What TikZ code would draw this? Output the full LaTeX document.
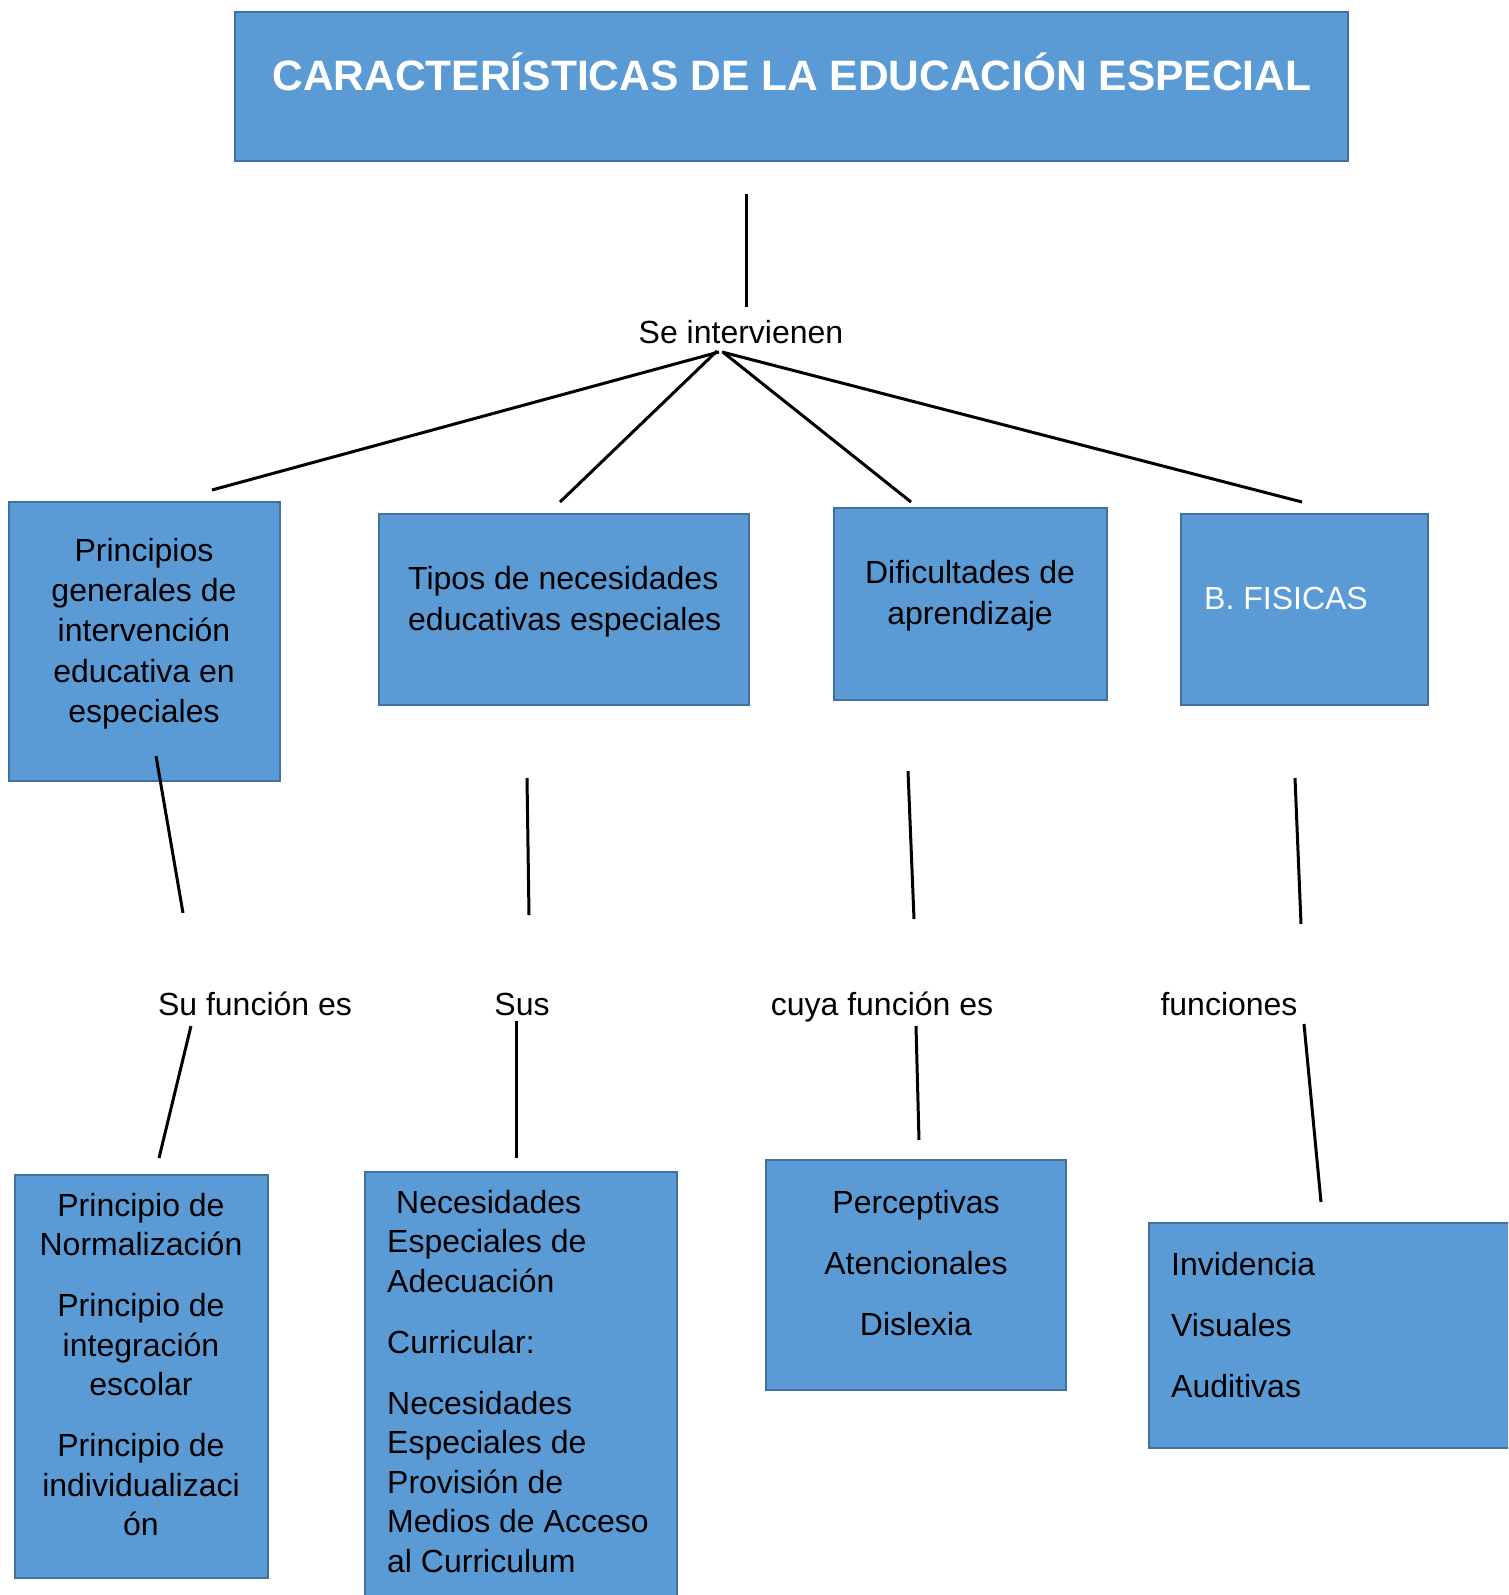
\documentclass[tikz,border=0pt]{standalone}
\usepackage{fontspec}
\setmainfont{Liberation Sans}
\usepackage{tikz}
\definecolor{cellblue}{HTML}{5B9BD5}
\definecolor{cellrim}{HTML}{41719C}
\tikzstyle{bcell} = [rectangle, draw=cellrim, fill=cellblue, line width=2pt, inner sep=0pt]
\tikzstyle{title} = [inner sep=0pt, text=white, font=\fontsize{42.5}{50}\selectfont\bfseries]
\tikzstyle{word} = [inner sep=0pt, font=\fontsize{32}{39.5}\selectfont]
\tikzstyle{wide} = [inner sep=0pt, font=\fontsize{32}{41.5}\selectfont]
\tikzstyle{line} = [draw, line width=3pt]

\begin{document}
\begin{tikzpicture}[x=1pt, y=-1pt]
    \clip (0,0) rectangle (1508,1595);

    % cajas
    \node[bcell, minimum width=1113, minimum height=149] (main) at (791.5,86.5) {};
    \node[bcell, minimum width=271, minimum height=279] (princ) at (144.5,641.5) {};
    \node[bcell, minimum width=370, minimum height=191] (tipos) at (564,609.5) {};
    \node[bcell, minimum width=273, minimum height=192] (dific) at (970.5,604) {};
    \node[bcell, minimum width=247, minimum height=191] (fisic) at (1304.5,609.5) {};
    \node[bcell, minimum width=253, minimum height=403] (normas) at (141.5,1376.5) {};
    \node[bcell, minimum width=312, minimum height=448] (neces) at (521,1396) {};
    \node[bcell, minimum width=300, minimum height=230] (percep) at (916,1275) {};
    \node[bcell, minimum width=381, minimum height=225] (sentid) at (1339.5,1335.5) {};

    % textos
    \node[title, anchor=base] (maintxt) at (792,90) {CARACTERÍSTICAS DE LA EDUCACIÓN ESPECIAL};
    \node[word, anchor=base] (inter) at (741,343) {Se intervienen};
    \node[word, anchor=north, align=center, font=\fontsize{32}{40.3}\selectfont] (princtxt) at (144,538)
        {Principios\\generales de\\intervención\\educativa en\\especiales};
    \node[wide, anchor=north west, align=left] (tipostxt) at (408,566)
        {Tipos de necesidades\\educativas especiales};
    \node[wide, anchor=north, align=center] (difictxt) at (970,560)
        {Dificultades de\\aprendizaje};
    \node[word, anchor=base west, text=white] (fisictxt) at (1204,609) {B. FISICAS};

    \node[word, anchor=base] (funcion) at (255,1015) {Su función es};
    \node[word, anchor=base] (sus) at (522,1015) {Sus};
    \node[word, anchor=base] (cuya) at (882,1015) {cuya función es};
    \node[word, anchor=base] (funciones) at (1229,1015) {funciones};

    \node[word, anchor=north, align=center] (normastxt) at (141,1193)
        {Principio de\\Normalización\\[21.5pt]Principio de\\integración\\escolar\\[21.5pt]Principio de\\individualizaci\\ón};
    \node[word, anchor=north west, align=left] (necestxt) at (387,1190)
        {\hspace*{9pt}Necesidades\\Especiales de\\Adecuación\\[21.5pt]Curricular:\\[21.5pt]Necesidades\\Especiales de\\Provisión de\\Medios de Acceso\\al Curriculum};
    \node[word, anchor=north, align=center] (perceptxt) at (916,1190)
        {Perceptivas\\[21.5pt]Atencionales\\[22pt]Dislexia};
    \node[word, anchor=north west, align=left] (sentidtxt) at (1171,1252)
        {Invidencia\\[21.5pt]Visuales\\[21.5pt]Auditivas};

    % extremos de las lineas
    \coordinate (main-s) at (746,194);
    \coordinate (inter-n) at (746,307);
    \coordinate (hub-a) at (719,352);
    \coordinate (hub-b) at (717,351);
    \coordinate (hub-c) at (724,353);
    \coordinate (hub-d) at (722,352);
    \coordinate (princ-n) at (212,490);
    \coordinate (tipos-n) at (560,502);
    \coordinate (dific-n) at (911,502);
    \coordinate (fisic-n) at (1302,502);
    \coordinate (princ-s) at (156,756);
    \coordinate (tipos-s) at (527,778);
    \coordinate (dific-s) at (908,771);
    \coordinate (fisic-s) at (1295,778);
    \coordinate (funcion-n) at (183,913);
    \coordinate (sus-n) at (529,915);
    \coordinate (cuya-n) at (914,919);
    \coordinate (funciones-n) at (1301,924);
    \coordinate (funcion-s) at (191,1026);
    \coordinate (sus-s) at (516,1021);
    \coordinate (cuya-s) at (916,1026);
    \coordinate (funciones-s) at (1304,1024);
    \coordinate (normas-n) at (159,1158);
    \coordinate (neces-n) at (516,1158);
    \coordinate (percep-n) at (919,1140);
    \coordinate (sentid-n) at (1321,1202);

    \path[line] (main-s) -- (inter-n);
    \path[line] (hub-a) -- (princ-n);
    \path[line] (hub-b) -- (tipos-n);
    \path[line] (hub-c) -- (dific-n);
    \path[line] (hub-d) -- (fisic-n);
    \path[line] (princ-s) -- (funcion-n);
    \path[line] (tipos-s) -- (sus-n);
    \path[line] (dific-s) -- (cuya-n);
    \path[line] (fisic-s) -- (funciones-n);
    \path[line] (funcion-s) -- (normas-n);
    \path[line] (sus-s) -- (neces-n);
    \path[line] (cuya-s) -- (percep-n);
    \path[line] (funciones-s) -- (sentid-n);
\end{tikzpicture}
\end{document}
